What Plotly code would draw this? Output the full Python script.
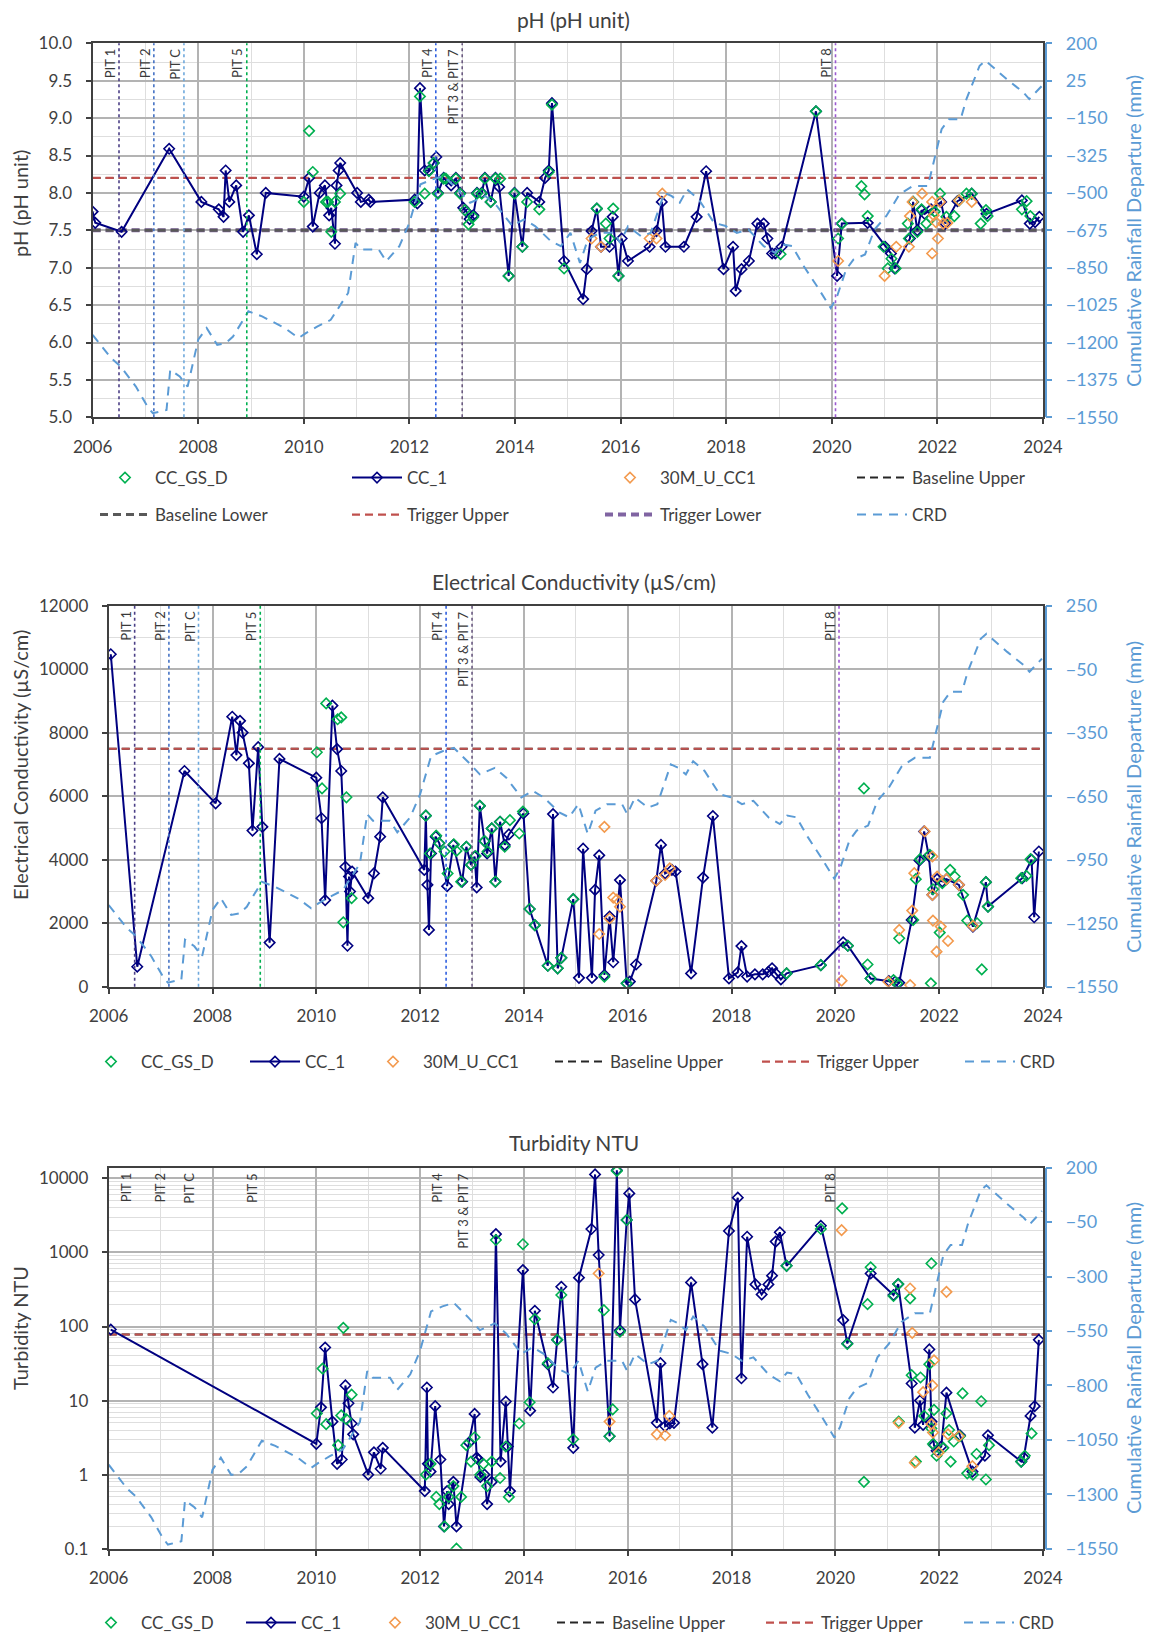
import plotly.graph_objects as go

# ---------------- DATA (decimal year, value) ----------------
ph_cc1 = [(2006.00, 7.75), (2006.05, 7.60), (2006.55, 7.48), (2007.45, 8.59), (2008.06, 7.88), (2008.39, 7.78),
          (2008.48, 7.68), (2008.52, 8.30), (2008.59, 7.88), (2008.72, 8.10), (2008.85, 7.48), (2008.96, 7.70),
          (2009.11, 7.18), (2009.28, 8.00), (2010.00, 7.95), (2010.10, 8.20), (2010.17, 7.55), (2010.30, 8.00),
          (2010.40, 8.10), (2010.48, 7.70), (2010.52, 7.80), (2010.59, 7.32), (2010.62, 8.10), (2010.66, 8.30),
          (2010.69, 8.40), (2011.01, 8.00), (2011.08, 7.88), (2011.23, 7.91), (2011.26, 7.88), (2012.10, 7.91),
          (2012.15, 7.86), (2012.20, 9.40), (2012.29, 8.30), (2012.37, 8.30), (2012.46, 8.40), (2012.51, 8.48),
          (2012.54, 8.00), (2012.65, 8.20), (2012.79, 8.10), (2012.88, 8.20), (2012.96, 8.00), (2013.02, 7.80),
          (2013.08, 7.75), (2013.14, 7.65), (2013.21, 7.70), (2013.28, 8.00), (2013.37, 8.00), (2013.43, 8.20),
          (2013.54, 7.88), (2013.63, 8.20), (2013.70, 8.08), (2013.88, 6.89), (2013.99, 8.00), (2014.14, 7.28),
          (2014.23, 8.00), (2014.46, 7.88), (2014.57, 8.20), (2014.64, 8.30), (2014.70, 9.20), (2014.93, 7.09),
          (2015.29, 6.58), (2015.36, 6.98), (2015.45, 7.49), (2015.55, 7.79), (2015.63, 7.28), (2015.79, 7.28),
          (2015.85, 7.68), (2015.96, 6.89), (2016.02, 7.39), (2016.14, 7.09), (2016.55, 7.28), (2016.68, 7.49),
          (2016.78, 7.88), (2016.85, 7.28), (2017.20, 7.28), (2017.44, 7.68), (2017.62, 8.29), (2017.95, 6.98),
          (2018.13, 7.28), (2018.18, 6.69), (2018.29, 6.98), (2018.43, 7.09), (2018.59, 7.59), (2018.71, 7.59),
          (2018.78, 7.39), (2018.87, 7.19), (2018.93, 7.19), (2019.05, 7.28), (2019.70, 9.09), (2020.10, 6.89),
          (2020.19, 7.59), (2020.68, 7.60), (2021.01, 7.28), (2021.12, 7.19), (2021.19, 6.99), (2021.48, 7.39),
          (2021.54, 7.88), (2021.62, 7.50), (2021.70, 7.77), (2021.76, 7.72), (2021.88, 7.78), (2022.07, 7.88),
          (2022.15, 7.59), (2022.38, 7.89), (2022.65, 7.99), (2022.93, 7.72), (2023.60, 7.90), (2023.75, 7.59),
          (2023.85, 7.61), (2023.93, 7.68)]

ph_gsd = [(2010.00, 7.88), (2010.10, 8.83), (2010.17, 8.28), (2010.42, 7.88), (2010.46, 7.88), (2010.52, 7.48),
          (2010.59, 7.88), (2010.69, 7.99), (2012.10, 7.88), (2012.20, 9.29), (2012.29, 7.99), (2012.37, 8.29),
          (2012.46, 8.40), (2012.54, 7.99), (2012.65, 8.19), (2012.69, 8.19), (2012.88, 8.19), (2012.96, 7.99),
          (2013.05, 7.77), (2013.12, 7.58), (2013.21, 7.68), (2013.28, 7.99), (2013.37, 7.99), (2013.43, 8.19),
          (2013.54, 7.88), (2013.63, 8.19), (2013.72, 8.19), (2013.88, 6.89), (2013.99, 7.99), (2014.14, 7.28),
          (2014.23, 7.88), (2014.46, 7.78), (2014.64, 8.28), (2014.70, 9.18), (2014.93, 6.99), (2015.55, 7.79),
          (2015.72, 7.59), (2015.79, 7.39), (2015.86, 7.79), (2015.96, 6.89), (2019.03, 7.18), (2019.70, 9.09),
          (2020.12, 7.39), (2020.19, 7.59), (2020.56, 8.09), (2020.62, 7.98), (2020.68, 7.69), (2020.98, 7.28),
          (2021.06, 6.99), (2021.13, 7.12), (2021.21, 6.99), (2021.44, 7.59), (2021.46, 7.39), (2021.54, 7.88),
          (2021.62, 7.48), (2021.70, 7.78), (2021.79, 7.59), (2021.88, 7.66), (2021.95, 7.75), (2022.05, 7.99),
          (2022.17, 7.68), (2022.32, 7.69), (2022.41, 7.90), (2022.55, 7.99), (2022.65, 7.99), (2022.82, 7.59),
          (2022.92, 7.77), (2022.95, 7.69), (2023.60, 7.78), (2023.69, 7.89), (2023.76, 7.69)]

ph_30m = [(2015.45, 7.39), (2015.63, 7.28), (2016.55, 7.39), (2016.68, 7.39), (2016.79, 7.99), (2020.12, 7.09),
          (2021.00, 6.89), (2021.22, 7.28), (2021.46, 7.28), (2021.48, 7.69), (2021.53, 7.88), (2021.71, 7.99),
          (2021.90, 7.88), (2021.90, 7.19), (2021.93, 7.70), (2021.97, 7.61), (2022.01, 7.39), (2022.05, 7.88),
          (2022.11, 7.59), (2022.19, 7.60), (2022.41, 7.90), (2022.65, 7.88)]

ec_cc1 = [(2006.04, 10480), (2006.55, 630), (2007.46, 6800), (2008.06, 5780), (2008.38, 8510), (2008.46, 7300),
          (2008.53, 8380), (2008.58, 8010), (2008.70, 7040), (2008.77, 4920), (2008.88, 7550), (2008.96, 5040),
          (2009.10, 1390), (2009.29, 7180), (2010.00, 6590), (2010.10, 5310), (2010.17, 2730), (2010.31, 8860),
          (2010.40, 7490), (2010.48, 6800), (2010.56, 3780), (2010.60, 1290), (2010.63, 3470), (2010.65, 3000),
          (2010.69, 3630), (2011.00, 2790), (2011.11, 3570), (2011.23, 4730), (2011.28, 5970), (2012.08, 3680),
          (2012.11, 5390), (2012.14, 3210), (2012.17, 1790), (2012.21, 4200), (2012.30, 4730), (2012.37, 4520),
          (2012.52, 3170), (2012.64, 4470), (2012.81, 3310), (2012.89, 4410), (2012.98, 3840), (2013.05, 4100),
          (2013.09, 3130), (2013.15, 5700), (2013.24, 4590), (2013.29, 4200), (2013.38, 4990), (2013.45, 3310),
          (2013.54, 5200), (2013.63, 4470), (2013.71, 4800), (2013.99, 5460), (2014.11, 2450), (2014.21, 1940),
          (2014.46, 660), (2014.56, 5440), (2014.65, 580), (2014.72, 910), (2014.95, 2760), (2015.06, 280),
          (2015.14, 4350), (2015.31, 280), (2015.37, 3050), (2015.45, 4140), (2015.55, 370), (2015.65, 2210),
          (2015.72, 770), (2015.85, 3360), (2015.98, 105), (2016.04, 160), (2016.16, 700), (2016.55, 3340),
          (2016.64, 4470), (2016.72, 3570), (2016.85, 3680), (2016.92, 3630), (2017.22, 420), (2017.45, 3440),
          (2017.64, 5380), (2017.95, 260), (2018.12, 450), (2018.19, 1280), (2018.30, 320), (2018.45, 390),
          (2018.60, 390), (2018.71, 470), (2018.78, 580), (2018.85, 420), (2018.95, 230), (2019.06, 420),
          (2019.72, 680), (2020.15, 1400), (2020.24, 1290), (2020.68, 260), (2021.03, 180), (2021.15, 157),
          (2021.23, 125), (2021.47, 2105), (2021.62, 3980), (2021.71, 4895), (2021.80, 4126), (2021.87, 2895),
          (2021.96, 3389), (2022.06, 3316), (2022.14, 3389), (2022.38, 3210), (2022.65, 1894), (2022.90, 3295),
          (2022.94, 2526), (2023.60, 3421), (2023.78, 4000), (2023.83, 2189), (2023.92, 4263)]

ec_gsd = [(2010.01, 7390), (2010.11, 6250), (2010.19, 8930), (2010.41, 8430), (2010.48, 8490), (2010.52, 2030),
          (2010.58, 5970), (2010.68, 2790), (2012.11, 5390), (2012.19, 4200), (2012.31, 4760), (2012.37, 4520),
          (2012.47, 4260), (2012.53, 3570), (2012.65, 4490), (2012.70, 4280), (2012.79, 3310), (2012.89, 4410),
          (2012.98, 3840), (2013.07, 4120), (2013.15, 5700), (2013.24, 4590), (2013.30, 4260), (2013.38, 4990),
          (2013.45, 3310), (2013.54, 5200), (2013.63, 4410), (2013.73, 5250), (2013.91, 4830), (2013.98, 5520),
          (2014.11, 2450), (2014.21, 1940), (2014.46, 660), (2014.65, 580), (2014.72, 910), (2014.95, 2760),
          (2015.55, 315), (2015.98, 105), (2019.06, 420), (2019.72, 680), (2020.24, 1290), (2020.55, 6250),
          (2020.62, 700), (2020.68, 260), (2021.12, 210), (2021.19, 105), (2021.23, 1526), (2021.50, 2105),
          (2021.55, 3389), (2021.63, 4021), (2021.82, 4158), (2021.84, 105), (2021.88, 3073), (2022.01, 1705),
          (2022.06, 3263), (2022.21, 3684), (2022.30, 3473), (2022.46, 2895), (2022.54, 2084), (2022.73, 2000),
          (2022.82, 546), (2022.90, 3295), (2022.94, 2526), (2023.58, 3421), (2023.68, 3495), (2023.76, 4021)]

ec_30m = [(2015.45, 1660), (2015.55, 5040), (2015.65, 2150), (2015.72, 2810), (2015.79, 2750), (2015.85, 2520),
          (2016.55, 3340), (2016.72, 3520), (2016.81, 3730), (2020.12, 190), (2021.02, 157), (2021.23, 1789),
          (2021.44, 52), (2021.48, 2400), (2021.52, 3579), (2021.72, 4895), (2021.87, 4105), (2021.87, 2895),
          (2021.88, 2084), (2021.95, 1105), (2021.96, 3473), (2022.03, 1894), (2022.14, 3389), (2022.17, 1442),
          (2022.38, 3210), (2022.65, 1915)]

tu_cc1 = [(2006.04, 91), (2010.00, 2.6), (2010.09, 8.1), (2010.17, 52), (2010.31, 5.2), (2010.40, 1.4),
          (2010.49, 1.6), (2010.56, 16), (2010.62, 9.2), (2010.68, 4.9), (2010.71, 3.5), (2011.00, 1.0),
          (2011.11, 2.0), (2011.24, 1.2), (2011.28, 2.3), (2012.09, 0.6), (2012.13, 15), (2012.15, 1.4),
          (2012.20, 1.1), (2012.29, 8.4), (2012.39, 1.6), (2012.46, 0.2), (2012.52, 0.6), (2012.55, 0.4),
          (2012.64, 0.8), (2012.70, 0.2), (2012.94, 2.7), (2013.05, 6.6), (2013.09, 1.7), (2013.12, 1.6),
          (2013.16, 0.93), (2013.24, 1.0), (2013.29, 0.4), (2013.38, 0.8), (2013.46, 1770), (2013.55, 1.5),
          (2013.65, 9.7), (2013.69, 2.4), (2013.73, 0.6), (2013.98, 578), (2014.12, 7.3), (2014.21, 163),
          (2014.46, 31), (2014.56, 15), (2014.64, 66), (2014.72, 344), (2014.95, 2.3), (2015.06, 456),
          (2015.30, 2070), (2015.37, 11300), (2015.44, 923), (2015.65, 3.3), (2015.79, 12900), (2015.85, 89),
          (2015.98, 2740), (2016.03, 6270), (2016.14, 232), (2016.56, 5.0), (2016.63, 32), (2016.72, 4.5),
          (2016.81, 4.9), (2016.89, 5.0), (2017.22, 394), (2017.44, 31), (2017.63, 4.3), (2017.95, 1950),
          (2018.12, 5490), (2018.19, 20), (2018.30, 1630), (2018.46, 370), (2018.58, 271), (2018.71, 370),
          (2018.78, 486), (2018.85, 1400), (2018.93, 1870), (2019.06, 660), (2019.72, 2290), (2020.15, 122),
          (2020.23, 59), (2020.68, 520), (2021.12, 266), (2021.21, 374), (2021.47, 17), (2021.53, 4.3),
          (2021.63, 10), (2021.69, 4.7), (2021.81, 49), (2021.85, 5.2), (2021.90, 2.5), (2021.95, 2.1),
          (2022.04, 2.4), (2022.14, 12.8), (2022.40, 3.4), (2022.64, 1.1), (2022.88, 1.8), (2022.94, 3.4),
          (2023.58, 1.5), (2023.63, 1.7), (2023.76, 6.2), (2023.84, 8.4), (2023.92, 66)]

tu_gsd = [(2010.01, 6.7), (2010.12, 27), (2010.19, 4.8), (2010.42, 2.5), (2010.48, 6.3), (2010.52, 96),
          (2010.58, 5.6), (2010.68, 12), (2012.11, 1.0), (2012.20, 1.4), (2012.31, 0.5), (2012.37, 0.4),
          (2012.47, 0.2), (2012.55, 0.5), (2012.64, 0.7), (2012.70, 0.1), (2012.79, 0.5), (2012.89, 2.5),
          (2012.98, 1.5), (2013.05, 3.2), (2013.16, 1.0), (2013.22, 1.4), (2013.29, 0.7), (2013.38, 1.5),
          (2013.46, 1470), (2013.54, 0.9), (2013.65, 2.4), (2013.71, 0.5), (2013.91, 4.9), (2013.98, 1290),
          (2014.11, 9.5), (2014.21, 126), (2014.46, 32), (2014.64, 66), (2014.72, 266), (2014.95, 3.0),
          (2015.54, 166), (2015.65, 3.3), (2015.71, 7.6), (2015.79, 12600), (2015.85, 85), (2015.98, 2740),
          (2019.06, 660), (2019.72, 2070), (2020.13, 3940), (2020.23, 58), (2020.55, 0.8), (2020.62, 200),
          (2020.68, 630), (2021.12, 258), (2021.21, 374), (2021.22, 5.2), (2021.44, 240), (2021.47, 22),
          (2021.55, 1.5), (2021.64, 20.5), (2021.71, 6.2), (2021.81, 31), (2021.85, 4.2), (2021.85, 710),
          (2021.88, 2.6), (2021.90, 7.5), (2021.95, 1.8), (2022.08, 2.3), (2022.14, 6.7), (2022.19, 4.0),
          (2022.22, 1.5), (2022.28, 2.8), (2022.40, 3.3), (2022.45, 12.5), (2022.54, 1.04), (2022.65, 1.0),
          (2022.72, 1.9), (2022.81, 9.8), (2022.90, 0.86), (2022.96, 2.5), (2023.58, 1.5), (2023.65, 1.8),
          (2023.78, 3.6)]

tu_30m = [(2015.44, 520), (2015.65, 5.2), (2016.56, 3.5), (2016.72, 3.4), (2016.80, 6.2), (2020.12, 2000),
          (2021.22, 5.0), (2021.44, 326), (2021.48, 82), (2021.53, 1.45), (2021.69, 13), (2021.85, 4.8),
          (2021.87, 16), (2021.88, 3.7), (2021.90, 35), (2021.99, 2.0), (2022.14, 294), (2022.17, 3.5),
          (2022.38, 3.3), (2022.64, 1.3)]

crd = [(2006.00, -1164), (2006.35, -1273), (2006.53, -1312), (2006.82, -1406), (2007.04, -1500), (2007.14, -1531),
       (2007.40, -1516), (2007.47, -1328), (2007.65, -1359), (2007.80, -1406), (2008.00, -1187), (2008.16, -1132),
       (2008.36, -1211), (2008.52, -1203), (2008.66, -1172), (2008.95, -1054), (2009.21, -1078), (2009.46, -1109),
       (2009.64, -1132), (2009.90, -1179), (2010.04, -1156), (2010.26, -1125), (2010.51, -1094), (2010.84, -968),
       (2010.98, -734), (2011.09, -765), (2011.42, -765), (2011.56, -820), (2011.81, -749), (2012.00, -640),
       (2012.21, -460), (2012.43, -437), (2012.65, -421), (2012.94, -491), (2013.15, -546), (2013.44, -515),
       (2013.66, -562), (2013.95, -655), (2014.17, -624), (2014.38, -655), (2014.68, -726), (2014.87, -749),
       (2015.05, -687), (2015.23, -828), (2015.38, -718), (2015.60, -687), (2015.89, -687), (2015.99, -734),
       (2016.14, -656), (2016.39, -703), (2016.57, -687), (2016.83, -499), (2016.97, -515), (2017.12, -546),
       (2017.26, -484), (2017.48, -530), (2017.77, -640), (2017.99, -655), (2018.20, -687), (2018.42, -671),
       (2018.71, -749), (2018.93, -781), (2019.07, -741), (2019.25, -749), (2019.47, -843), (2019.72, -937),
       (2019.98, -1039), (2020.09, -991), (2020.27, -859), (2020.41, -812), (2020.63, -788), (2020.81, -671),
       (2021.03, -609), (2021.28, -507), (2021.53, -468), (2021.82, -468), (2022.08, -202), (2022.22, -155),
       (2022.44, -155), (2022.55, -61), (2022.80, 95), (2022.91, 119), (2023.31, 33), (2023.63, -30),
       (2023.74, -61), (2023.98, 1)]

# thresholds
limit_x = [2006, 2024]
ph_trigger_upper = 8.2
ph_baseline_upper = 8.2
ph_baseline_lower = 7.5
ph_trigger_lower = 7.5
ec_trigger_upper = 7500
ec_baseline_upper = 7500
tu_trigger_upper = 78
tu_baseline_upper = 78

pit_names = ["PIT 1", "PIT 2", "PIT C", "PIT 5", "PIT 4", "PIT 3 & PIT 7", "PIT 8"]
pit_years = [2006.50, 2007.16, 2007.73, 2008.92, 2012.50, 2013.00, 2020.07]
pit_colors = ["#4B3F86", "#4472C4", "#6FA8DC", "#00B050", "#2F5FE0", "#6A5A80", "#9B59D0"]

titles = ["pH (pH unit)", "Electrical Conductivity (µS/cm)", "Turbidity NTU"]
ytitles = ["pH (pH unit)", "Electrical Conductivity (µS/cm)", "Turbidity NTU"]
y2title = "Cumulative Rainfall Departure (mm)"
tu_ticks = [0.1, 1, 10, 100, 1000, 10000]
tu_tick_text = ["0.1", "1", "10", "100", "1000", "10000"]

# ---------------- STYLE / LAYOUT ----------------
W, H = 1150, 1636
FONT = "Lato"
DARK = "#404040"
TXT = "#404040"
BLUE = "#5B9BD5"
NAVY = "#000080"
GREEN = "#00B050"
ORANGE = "#F39A4E"
RED = "#C0504D"
GRID_MAJ = "#B3B3B3"
GRID_MIN = "#DEDEDE"


def fx(p):
    return p / W


def fy(p):
    return 1 - p / H


panels = [dict(l=92.6, r=1043, t=43.3, b=417.3),
          dict(l=108.7, r=1043, t=606, b=986.7),
          dict(l=108.7, r=1043, t=1167.7, b=1548.7)]

fig = go.Figure()
layout = dict(width=W, height=H, margin=dict(l=0, r=0, t=0, b=0, autoexpand=False), paper_bgcolor="white",
              plot_bgcolor="white", font=dict(family=FONT, color=TXT), showlegend=True)

legend_count = [0]


def new_legend(text_x, y_px):
    legend_count[0] += 1
    n = legend_count[0]
    key = "legend" if n == 1 else "legend%d" % n
    layout[key] = dict(x=fx(text_x - 60), y=fy(y_px), xanchor="left", yanchor="middle",
                       orientation="h", bgcolor="rgba(0,0,0,0)", borderwidth=0, itemwidth=50,
                       font=dict(family=FONT, size=17, color=TXT))
    return key


def unzip(pairs):
    return [p[0] for p in pairs], [p[1] for p in pairs]


annotations = []
shapes = []

for i, pnl in enumerate(panels):
    xa = "x" if i == 0 else "x%d" % (i + 1)
    ya = "y" if i == 0 else "y%d" % (2 * i + 1)
    y2a = "y%d" % (2 * i + 2)
    xkey = "xaxis" if i == 0 else "xaxis%d" % (i + 1)
    ykey = "yaxis" if i == 0 else "yaxis%d" % (2 * i + 1)
    y2key = "yaxis%d" % (2 * i + 2)
    dom_x = [fx(pnl["l"]), fx(pnl["r"])]
    dom_y = [fy(pnl["b"]), fy(pnl["t"])]
    layout[xkey] = dict(domain=dom_x, anchor=ya, range=[2006, 2024], tickmode="linear", tick0=2006, dtick=2,
                        ticks="outside", ticklen=5, tickcolor=DARK, tickwidth=1.5, showgrid=True,
                        gridcolor=GRID_MAJ, gridwidth=1.5, showline=True, linecolor=DARK, linewidth=2,
                        mirror=True, zeroline=False, tickfont=dict(size=17, color=TXT), ticklabelstandoff=8,
                        automargin=False,
                        minor=dict(dtick=1, tick0=2006, showgrid=True, gridcolor=GRID_MIN, gridwidth=1))
    ycommon = dict(domain=dom_y, anchor=xa, showline=True, linecolor=DARK, linewidth=2, mirror=True,
                   ticks="outside", ticklen=5, tickcolor=DARK, tickwidth=1.5, zeroline=False,
                   showgrid=True, gridcolor=GRID_MAJ, gridwidth=1.5, tickfont=dict(size=17, color=TXT),
                   ticklabelstandoff=10, automargin=False)
    if i == 0:
        ycommon.update(range=[5, 10], tickmode="linear", tick0=5, dtick=0.5, tickformat=".1f",
                       minor=dict(dtick=0.25, showgrid=True, gridcolor=GRID_MIN, gridwidth=1))
        y2range, y2dtick = [-1550, 200], 175
    elif i == 1:
        ycommon.update(range=[0, 12000], tickmode="linear", tick0=0, dtick=2000, tickformat="d",
                       minor=dict(dtick=1000, showgrid=True, gridcolor=GRID_MIN, gridwidth=1))
        y2range, y2dtick = [-1550, 250], 300
    else:
        minor_vals = [m * 10 ** e for e in range(-1, 5) for m in range(2, 10)]
        ycommon.update(type="log", range=[-1, 4.144], tickmode="array", tickvals=tu_ticks,
                       ticktext=tu_tick_text,
                       minor=dict(tickmode="array", tickvals=minor_vals, showgrid=True, gridcolor=GRID_MIN,
                                  gridwidth=1, ticks=""))
        y2range, y2dtick = [-1550, 200], 250
    layout[ykey] = ycommon
    layout[y2key] = dict(overlaying=ya, side="right", anchor="free", position=min(1, fx(pnl["r"] + 2.5)),
                         range=y2range, tickmode="linear", tick0=-1550, dtick=y2dtick, showgrid=False,
                         zeroline=False, showline=True, linecolor=BLUE, linewidth=1.5, ticks="outside",
                         ticklen=6, tickcolor=BLUE, tickwidth=1.5, tickfont=dict(size=18, color=BLUE),
                         ticklabelstandoff=10, automargin=False)

    # titles
    title_y = [19, 581, 1142][i]
    annotations.append(dict(text=titles[i], xref="paper", yref="paper", x=fx(573.5), y=fy(title_y),
                            xanchor="center", yanchor="middle", showarrow=False,
                            font=dict(size=21, color=TXT, family=FONT)))
    ytitle_c = [204, 765, 1328][i]
    annotations.append(dict(text=ytitles[i], xref="paper", yref="paper", x=fx(20), y=fy(ytitle_c),
                            xanchor="center", yanchor="middle", textangle=-90, showarrow=False,
                            font=dict(size=20, color=TXT, family=FONT)))
    y2title_c = [231, 797, 1358][i]
    annotations.append(dict(text=y2title, xref="paper", yref="paper", x=fx(1133), y=fy(y2title_c),
                            xanchor="center", yanchor="middle", textangle=-90, showarrow=False,
                            font=dict(size=20, color=BLUE, family=FONT)))

    # PIT markers
    for name, yr, col in zip(pit_names, pit_years, pit_colors):
        if i < 2:
            shapes.append(dict(type="line", xref=xa, yref=ya + " domain", x0=yr, x1=yr, y0=0, y1=1,
                               line=dict(color=col, width=1.6, dash="dot"), layer="above"))
        annotations.append(dict(text=name, xref=xa, yref=ya + " domain", x=yr, y=1, xanchor="right",
                                yanchor="top", yshift=-3, xshift=1, textangle=-90, showarrow=False,
                                font=dict(size=13, color="#3A3A3A", family=FONT)))

    # series per panel
    if i == 0:
        cc1, gsd, m30 = ph_cc1, ph_gsd, ph_30m
    elif i == 1:
        cc1, gsd, m30 = ec_cc1, ec_gsd, ec_30m
    else:
        cc1, gsd, m30 = tu_cc1, tu_gsd, tu_30m

    if i == 0:
        lx = [155, 407, 660, 912]
        pos = {"CC_GS_D": (lx[0], 478), "CC_1": (lx[1], 478), "30M_U_CC1": (lx[2], 478),
               "Baseline Upper": (lx[3], 478), "Baseline Lower": (lx[0], 515),
               "Trigger Upper": (lx[1], 515), "Trigger Lower": (lx[2], 515), "CRD": (lx[3], 515)}
    elif i == 1:
        yy = 1062
        pos = {"CC_GS_D": (141, yy), "CC_1": (305, yy), "30M_U_CC1": (423, yy),
               "Baseline Upper": (610, yy), "Trigger Upper": (817, yy), "CRD": (1020, yy)}
    else:
        yy = 1623
        pos = {"CC_GS_D": (141, yy), "CC_1": (301, yy), "30M_U_CC1": (425, yy),
               "Baseline Upper": (612, yy), "Trigger Upper": (821, yy), "CRD": (1019, yy)}

    def lg(name):
        return new_legend(*pos[name])

    dash_t = "8px,5px"
    # threshold lines (under data)
    if i == 0:
        fig.add_trace(go.Scatter(x=limit_x, y=[ph_trigger_lower] * 2, mode="lines", name="Trigger Lower",
                                 line=dict(color="#8064A2", width=4, dash=dash_t), xaxis=xa, yaxis=ya,
                                 legend=lg("Trigger Lower")))
        fig.add_trace(go.Scatter(x=limit_x, y=[ph_baseline_lower] * 2, mode="lines", name="Baseline Lower",
                                 line=dict(color="#595959", width=3, dash=dash_t), xaxis=xa, yaxis=ya,
                                 legend=lg("Baseline Lower")))
        bu, tu = ph_baseline_upper, ph_trigger_upper
    elif i == 1:
        bu, tu = ec_baseline_upper, ec_trigger_upper
    else:
        bu, tu = tu_baseline_upper, tu_trigger_upper
    fig.add_trace(go.Scatter(x=limit_x, y=[bu] * 2, mode="lines", name="Baseline Upper",
                             line=dict(color="#262626", width=2, dash=dash_t), xaxis=xa, yaxis=ya,
                             legend=lg("Baseline Upper")))
    fig.add_trace(go.Scatter(x=limit_x, y=[tu] * 2, mode="lines", name="Trigger Upper",
                             line=dict(color=RED, width=2.2, dash=dash_t), xaxis=xa, yaxis=ya,
                             legend=lg("Trigger Upper")))

    x, y = unzip(cc1)
    fig.add_trace(go.Scatter(x=x, y=y, mode="lines+markers", name="CC_1",
                             line=dict(color=NAVY, width=2),
                             marker=dict(symbol="diamond-open", size=8, color=NAVY, line=dict(width=1.6, color=NAVY)),
                             xaxis=xa, yaxis=ya, legend=lg("CC_1")))
    x, y = unzip(gsd)
    fig.add_trace(go.Scatter(x=x, y=y, mode="markers", name="CC_GS_D",
                             marker=dict(symbol="diamond-open", size=8, color=GREEN, line=dict(width=1.6, color=GREEN)),
                             xaxis=xa, yaxis=ya, legend=lg("CC_GS_D")))
    x, y = unzip(m30)
    fig.add_trace(go.Scatter(x=x, y=y, mode="markers", name="30M_U_CC1",
                             marker=dict(symbol="diamond-open", size=8, color=ORANGE, line=dict(width=1.6, color=ORANGE)),
                             xaxis=xa, yaxis=ya, legend=lg("30M_U_CC1")))
    x, y = unzip(crd)
    fig.add_trace(go.Scatter(x=x, y=y, mode="lines", name="CRD",
                             line=dict(color=BLUE, width=2, dash="9px,7px"),
                             xaxis=xa, yaxis=y2a, legend=lg("CRD")))

layout["annotations"] = annotations
layout["shapes"] = shapes
fig.update_layout(**layout)
fig.write_html("out.html")
